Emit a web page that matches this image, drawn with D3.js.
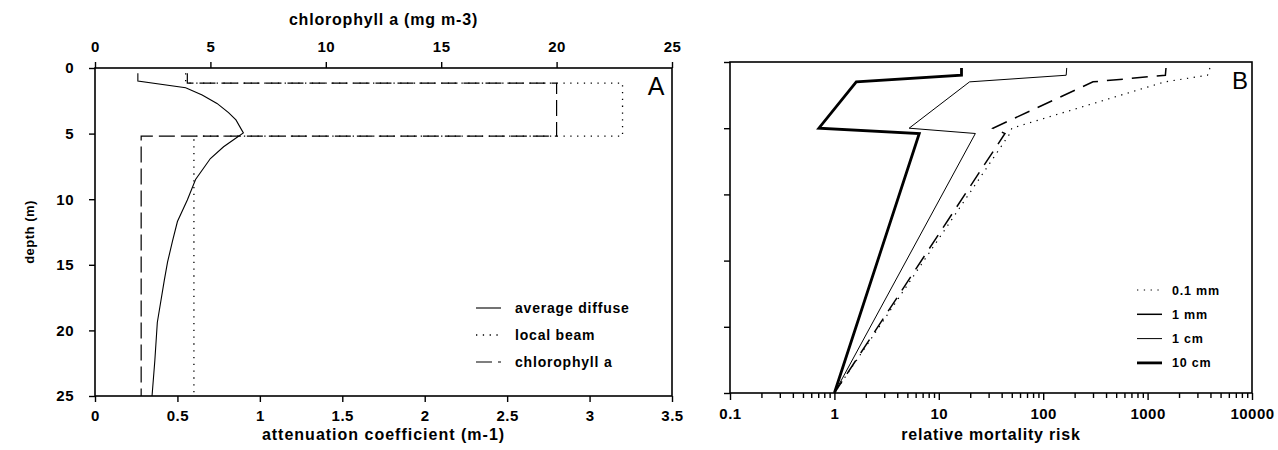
<!DOCTYPE html>
<html>
<head>
<meta charset="utf-8">
<script src="https://cdn.jsdelivr.net/npm/d3@7"></script>
<style>
  html, body { margin: 0; padding: 0; background: #fff; }
  svg { display: block; }
  text { font-family: "Liberation Sans", Arial, Helvetica, sans-serif; font-weight: bold; fill: #000; }
</style>
</head>
<body>
<svg id="chart" width="1278" height="450"></svg>
<script>
// ---------------- DATA ----------------
// Panel A
const depthTicks = [0, 5, 10, 15, 20, 25];
const chlTicks = [0, 5, 10, 15, 20, 25];
const attTicks = [0, 0.5, 1, 1.5, 2, 2.5, 3, 3.5];

const diffuseDepth = [0.4, 1.0, 1.5, 2.06, 2.7, 3.4, 3.96, 4.95, 5.3, 6.0, 6.9, 8.5, 10.06, 11.7, 13.2, 14.8, 16.2, 19.4, 22.3, 25];
const diffuseK     = [0.26, 0.26, 0.55, 0.65, 0.74, 0.81, 0.855, 0.90, 0.86, 0.78, 0.70, 0.61, 0.56, 0.50, 0.47, 0.44, 0.42, 0.378, 0.363, 0.346];

const beamDepth = [0.4, 1.15, 1.15, 5.2, 5.2, 25];
const beamC     = [0.55, 0.55, 3.2, 3.2, 0.6, 0.6];

const chlDepth = [0.4, 1.15, 1.15, 5.2, 5.2, 25];
const chlValue = [4, 4, 20, 20, 2, 2];

const legendA = ["average diffuse", "local beam", "chlorophyll a"];

// Panel B
const riskTicks = [0.1, 1, 10, 100, 1000, 10000];
const riskDepth = [0.45, 1.0, 1.5, 5.0, 5.4, 25];
const risk01mm  = [3950, 3750, 1460, 50, 48, 1];
const risk1mm   = [1500, 1480, 300, 33, 43, 1];
const risk1cm   = [168, 166, 19.7, 5.2, 22.4, 1];
const risk10cm  = [16.5, 16.5, 1.62, 0.71, 6.5, 1];
const legendB = ["0.1 mm", "1 mm", "1 cm", "10 cm"];

// ---------------- DRAWING ----------------
const svg = d3.select("#chart");
const LS = "0.8px";

// Panel A scales
const A = {left: 95, right: 672, top: 68, bottom: 396};
const xAtt = d3.scaleLinear().domain([0, 3.5]).range([A.left, A.right]);
const xChl = d3.scaleLinear().domain([0, 25]).range([A.left, A.right]);
const yA = d3.scaleLinear().domain([0, 25]).range([A.top, A.bottom]);

// Panel B scales
const B = {left: 730, right: 1252, top: 62, bottom: 393};
const xRisk = d3.scaleLog().domain([0.1, 10000]).range([B.left, B.right]);
const yB = d3.scaleLinear().domain([0, 25]).range([B.top, B.bottom]);

function styleAxis(g, fontSize) {
  g.select(".domain").remove();
  g.selectAll("line").attr("stroke", "#000").attr("stroke-width", 1.4);
  g.selectAll("text").style("font-size", fontSize + "px").style("letter-spacing", "0.5px")
    .attr("font-family", null).attr("fill", "#000");
}

// ---- Panel A axes ----
const gA = svg.append("g");
gA.append("g").attr("transform", `translate(0,${A.bottom})`)
  .call(d3.axisBottom(xAtt).tickValues(attTicks).tickSize(6).tickPadding(8).tickFormat(d => String(d)))
  .call(g => styleAxis(g, 15));
gA.append("g").attr("transform", `translate(0,${A.top})`)
  .call(d3.axisTop(xChl).tickValues(chlTicks).tickSize(6).tickPadding(10).tickFormat(d3.format("d")))
  .call(g => styleAxis(g, 15));
gA.append("g").attr("transform", `translate(${A.left},0)`)
  .call(d3.axisLeft(yA).tickValues(depthTicks).tickSize(6).tickPadding(15).tickFormat(d3.format("d")))
  .call(g => styleAxis(g, 15));
gA.append("rect").attr("x", A.left).attr("y", A.top)
  .attr("width", A.right - A.left).attr("height", A.bottom - A.top)
  .attr("fill", "none").attr("stroke", "#000").attr("stroke-width", 1.6);

gA.append("text").attr("x", (A.left + A.right) / 2).attr("y", 25).attr("text-anchor", "middle")
  .style("font-size", "16px").style("letter-spacing", LS).text("chlorophyll a (mg m-3)");
gA.append("text").attr("x", (A.left + A.right) / 2).attr("y", 440).attr("text-anchor", "middle")
  .style("font-size", "16px").style("letter-spacing", "1px").text("attenuation coefficient (m-1)");
gA.append("text").attr("transform", `translate(34,${(A.top + A.bottom) / 2}) rotate(-90)`)
  .attr("text-anchor", "middle").style("font-size", "13px").style("letter-spacing", "0.5px").text("depth (m)");
gA.append("text").attr("x", 656).attr("y", 95).attr("text-anchor", "middle")
  .style("font-size", "25px").style("font-weight", "normal").text("A");

// ---- Panel A lines ----
const lineAtt = d3.line().x(d => xAtt(d[0])).y(d => yA(d[1]));
const lineChl = d3.line().x(d => xChl(d[0])).y(d => yA(d[1]));

const diffuse = diffuseK.map((v, i) => [v, diffuseDepth[i]]);
const beam = beamC.map((v, i) => [v, beamDepth[i]]);
const chl = chlValue.map((v, i) => [v, chlDepth[i]]);

const styleA = [
  {dash: null, w: 1.1},
  {dash: "1.3,5.5", w: 1.3},
  {dash: "16,6", w: 1.2}
];

gA.append("path").datum(beam).attr("d", lineAtt).attr("fill", "none").attr("stroke", "#000")
  .attr("stroke-width", styleA[1].w).attr("stroke-dasharray", styleA[1].dash);
gA.append("path").datum(chl).attr("d", lineChl).attr("fill", "none").attr("stroke", "#000")
  .attr("stroke-width", styleA[2].w).attr("stroke-dasharray", styleA[2].dash);
gA.append("path").datum(diffuse).attr("d", lineAtt).attr("fill", "none").attr("stroke", "#000")
  .attr("stroke-width", styleA[0].w);

// Legend A
const legA = gA.append("g");
legendA.forEach((name, i) => {
  const y = 308 + i * 27;
  legA.append("line").attr("x1", 476).attr("x2", 501).attr("y1", y).attr("y2", y)
    .attr("stroke", "#000").attr("stroke-width", styleA[i].w).attr("stroke-dasharray", styleA[i].dash);
  legA.append("text").attr("x", 515).attr("y", y + 5).style("font-size", "14px")
    .style("letter-spacing", LS).text(name);
});

// ---- Panel B axes ----
const gB = svg.append("g");
const allLogTicks = xRisk.ticks();
const minorTicks = allLogTicks.filter(t => !riskTicks.some(m => Math.abs(m - t) / m < 1e-6));
gB.append("g").attr("transform", `translate(0,${B.bottom})`)
  .call(d3.axisBottom(xRisk).tickValues(minorTicks).tickSize(5).tickFormat(""))
  .call(g => styleAxis(g, 15));
gB.append("g").attr("transform", `translate(0,${B.bottom})`)
  .call(d3.axisBottom(xRisk).tickValues(riskTicks).tickSize(7).tickPadding(8).tickFormat(d => String(d)))
  .call(g => styleAxis(g, 15));
gB.append("g").attr("transform", `translate(${B.left},0)`)
  .call(d3.axisLeft(yB).tickValues(depthTicks).tickSize(6).tickFormat(""))
  .call(g => styleAxis(g, 15));
gB.append("rect").attr("x", B.left).attr("y", B.top)
  .attr("width", B.right - B.left).attr("height", B.bottom - B.top)
  .attr("fill", "none").attr("stroke", "#000").attr("stroke-width", 1.6);
gB.append("text").attr("x", (B.left + B.right) / 2).attr("y", 440).attr("text-anchor", "middle")
  .style("font-size", "16px").style("letter-spacing", LS).text("relative mortality risk");
gB.append("text").attr("x", 1240).attr("y", 89).attr("text-anchor", "middle")
  .style("font-size", "24px").style("font-weight", "normal").text("B");

// ---- Panel B lines ----
const lineB = d3.line().x(d => xRisk(d[0])).y(d => yB(d[1]));
const seriesB = [risk01mm, risk1mm, risk1cm, risk10cm];
const styleB = [
  {dash: "1.3,5.5", w: 1.2},
  {dash: "16,9", w: 1.5},
  {dash: null, w: 1.0},
  {dash: null, w: 2.8}
];
seriesB.forEach((vals, i) => {
  const pts = vals.map((v, j) => [v, riskDepth[j]]);
  gB.append("path").datum(pts).attr("d", lineB).attr("fill", "none").attr("stroke", "#000")
    .attr("stroke-width", styleB[i].w).attr("stroke-dasharray", styleB[i].dash)
    .attr("stroke-linejoin", "miter");
});

// Legend B
const legB = gB.append("g");
legendB.forEach((name, i) => {
  const y = 290 + i * 24.3;
  legB.append("line").attr("x1", 1137).attr("x2", 1162).attr("y1", y).attr("y2", y)
    .attr("stroke", "#000").attr("stroke-width", styleB[i].w)
    .attr("stroke-dasharray", i === 1 ? null : styleB[i].dash);
  legB.append("text").attr("x", 1172).attr("y", y + 4.5).style("font-size", "12.5px")
    .style("letter-spacing", LS).text(name);
});
</script>
</body>
</html>
